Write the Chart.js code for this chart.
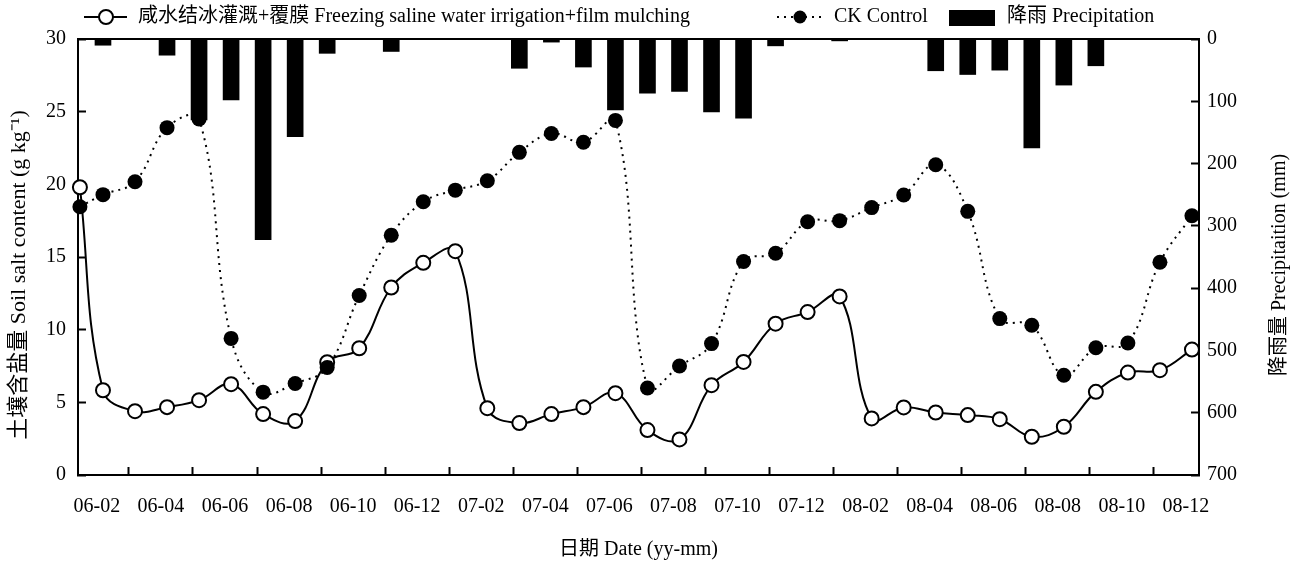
<!DOCTYPE html>
<html>
<head>
<meta charset="utf-8">
<script src="https://cdn.jsdelivr.net/npm/chart.js@4.4.0/dist/chart.umd.min.js"></script>
<style>
  html, body { margin: 0; padding: 0; background: #fff; }
  #wrap { width: 1295px; height: 562px; position: relative; }
</style>
</head>
<body>
<div id="wrap"><canvas id="chart" width="1295" height="562"></canvas></div>
<script>
const dates = [
    '06-01', '06-02', '06-03', '06-04', '06-05', '06-06', '06-07', '06-08', '06-09', '06-10', '06-11', '06-12',
    '07-01', '07-02', '07-03', '07-04', '07-05', '07-06', '07-07', '07-08', '07-09', '07-10', '07-11', '07-12',
    '08-01', '08-02', '08-03', '08-04', '08-05', '08-06', '08-07', '08-08', '08-09', '08-10', '08-11', '08-12'
];
const dateTicks = [
    '06-02', '06-04', '06-06', '06-08', '06-10', '06-12',
    '07-02', '07-04', '07-06', '07-08', '07-10', '07-12',
    '08-02', '08-04', '08-06', '08-08', '08-10', '08-12'
];
// soil salt content, g/kg
const filmSalt = [
    19.8, 5.83, 4.39, 4.67, 5.15, 6.25, 4.19, 3.71, 7.76, 8.72, 12.9, 14.6,
    15.4, 4.6, 3.57, 4.19, 4.67, 5.63, 3.09, 2.45, 6.18, 7.78, 10.41, 11.21,
    12.29, 3.89, 4.65, 4.30, 4.12, 3.84, 2.63, 3.32, 5.72, 7.05, 7.21, 8.63
];
const ckSalt = [
    18.46, 19.29, 20.18, 23.9, 24.5, 9.4, 5.7, 6.3, 7.4, 12.35, 16.5, 18.8,
    19.6, 20.25, 22.2, 23.5, 22.9, 24.4, 5.99, 7.5, 9.04, 14.69, 15.26, 17.43,
    17.5, 18.4, 19.27, 21.35, 18.14, 10.76, 10.3, 6.86, 8.76, 9.08, 14.64, 17.84
];
// precipitation, mm
const rainfall = [
    0, 10, 0, 26, 130, 98, 322, 157, 23, 0, 20, 0,
    0, 0, 47, 5, 45, 114, 87, 84, 117, 127, 11, 0,
    3, 0, 0, 51, 57, 50, 175, 74, 43, 0, 0, 0
];
const labels = [
    '咸水结冰灌溉+覆膜 Freezing saline water irrigation+film mulching',
    'CK Control',
    '降雨 Precipitation'
];
const yTitle = '土壤含盐量 Soil salt content (g kg⁻¹)';
const y2Title = '降雨量 Precipitaition (mm)';

const serif = "'Liberation Serif', 'Times New Roman', 'Noto Sans CJK SC', serif";
Chart.defaults.font.family = serif;
Chart.defaults.font.size = 20;
Chart.defaults.color = '#000';

// first sample sits right on the y axis in the original figure
const dayX = dates.map((d, i) => i === 0 ? 0.28 : i);
const toXY = arr => arr.map((v, i) => ({ x: dayX[i], y: v }));

// legend row on top + both y titles (both read bottom-to-top in the source)
const extras = {
    id: 'extras',
    afterDraw(chart) {
        const ctx = chart.ctx;
        const y = 17;
        ctx.save();
        ctx.font = '20px ' + serif;
        ctx.fillStyle = '#000';
        ctx.strokeStyle = '#000';
        ctx.textBaseline = 'middle';
        ctx.textAlign = 'left';

        // film mulching: solid line + open circle
        ctx.lineWidth = 2;
        ctx.beginPath();
        ctx.moveTo(84, y);
        ctx.lineTo(127, y);
        ctx.stroke();
        ctx.beginPath();
        ctx.arc(106, y, 7, 0, Math.PI * 2);
        ctx.fillStyle = '#fff';
        ctx.fill();
        ctx.stroke();
        ctx.fillStyle = '#000';
        ctx.fillText(chart.data.datasets[0].label, 138, y);

        // CK: dotted line + filled dot
        ctx.setLineDash([2, 5]);
        ctx.beginPath();
        ctx.moveTo(777, y);
        ctx.lineTo(822, y);
        ctx.stroke();
        ctx.setLineDash([]);
        ctx.beginPath();
        ctx.arc(800, y, 6.5, 0, Math.PI * 2);
        ctx.fill();
        ctx.fillText(chart.data.datasets[1].label, 834, y);

        // precipitation box
        ctx.fillRect(949, 10, 46, 16);
        ctx.fillText(chart.data.datasets[2].label, 1007, y);

        // axis titles
        ctx.textAlign = 'center';
        ctx.font = '22px ' + serif;
        ctx.save();
        ctx.translate(19, 275);
        ctx.rotate(-Math.PI / 2);
        ctx.fillText(yTitle, 0, 0);
        ctx.restore();
        ctx.font = '20px ' + serif;
        ctx.save();
        ctx.translate(1280, 265);
        ctx.rotate(-Math.PI / 2);
        ctx.fillText(y2Title, 0, 0);
        ctx.restore();
        ctx.restore();
    }
};

new Chart(document.getElementById('chart'), {
    type: 'bar',
    data: {
        datasets: [
            {
                type: 'line',
                label: labels[0],
                data: toXY(filmSalt),
                yAxisID: 'y',
                borderColor: '#000',
                borderWidth: 2,
                pointRadius: 7,
                pointBorderWidth: 2,
                pointBackgroundColor: '#fff',
                pointBorderColor: '#000',
                tension: 0.4,
                clip: false,
                order: 2
            },
            {
                type: 'line',
                label: labels[1],
                data: toXY(ckSalt),
                yAxisID: 'y',
                borderColor: '#000',
                borderWidth: 2,
                borderDash: [2, 5],
                pointRadius: 7.5,
                pointBorderWidth: 0,
                pointBackgroundColor: '#000',
                tension: 0.4,
                clip: false,
                order: 1
            },
            {
                type: 'bar',
                label: labels[2],
                data: toXY(rainfall),
                yAxisID: 'y2',
                backgroundColor: '#000',
                barThickness: 16,
                order: 3
            }
        ]
    },
    options: {
        responsive: false,
        animation: false,
        layout: { padding: { top: 39, left: 0, right: 0, bottom: 0 } },
        plugins: {
            legend: { display: false },
            tooltip: { enabled: false }
        },
        scales: {
            x: {
                type: 'linear',
                position: 'bottom',
                min: 0.22,
                max: 35.22,
                offset: false,
                // tick marks in the source sit a little left of the samples
                afterBuildTicks: s => { s.ticks = dateTicks.map(d => ({ value: dates.indexOf(d) - 0.19 })); },
                afterFit: s => { s.height = 87; },
                ticks: {
                    autoSkip: false,
                    maxRotation: 0,
                    padding: 28,
                    callback: v => dates[Math.round(v)]
                },
                grid: { drawOnChartArea: false, drawTicks: true, tickLength: -8, tickWidth: 2, color: '#000' },
                border: { display: true, color: '#000', width: 2 },
                title: { display: true, text: '日期 Date (yy-mm)', padding: { top: 0, bottom: 0 } }
            },
            xTop: {
                type: 'linear',
                position: 'top',
                min: 0,
                max: 1,
                afterFit: s => { s.height = 0; },
                ticks: { display: false },
                grid: { drawOnChartArea: false, drawTicks: false },
                border: { display: true, color: '#000', width: 2 }
            },
            y: {
                position: 'left',
                min: 0,
                max: 30,
                afterFit: s => { s.width = 78; },
                ticks: { stepSize: 5, padding: 20 },
                grid: { drawOnChartArea: false, tickLength: -8, tickWidth: 2, color: '#000' },
                border: { display: true, color: '#000', width: 2 },
                title: { display: false }
            },
            y2: {
                position: 'right',
                min: 0,
                max: 700,
                reverse: true,
                afterFit: s => { s.width = 96; },
                ticks: { stepSize: 100, padding: 16 },
                grid: { drawOnChartArea: false, tickLength: -8, tickWidth: 2, color: '#000' },
                border: { display: true, color: '#000', width: 2 },
                title: { display: false }
            }
        }
    },
    plugins: [extras]
});
</script>
</body>
</html>
